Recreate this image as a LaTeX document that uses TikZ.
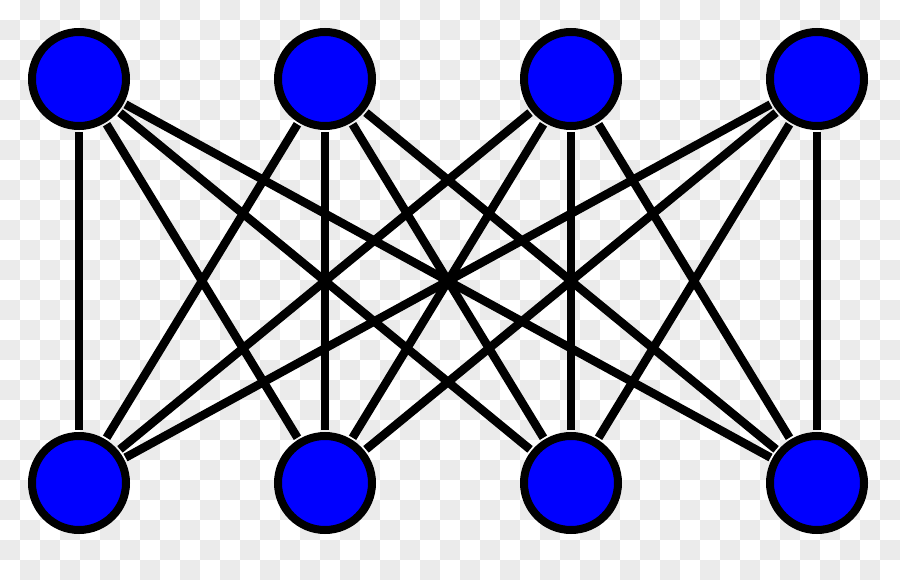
\documentclass[tikz,border=0pt]{standalone}
\definecolor{chk}{HTML}{EBEBEB}
\definecolor{nodeblue}{HTML}{0000FF}
\tikzset{
  vtx/.style={circle, draw=black, fill=nodeblue, line width=8pt, minimum size=94pt, inner sep=0pt},
  edge/.style={draw=black, line width=8.5pt, shorten <=2pt, shorten >=2pt}
}
\begin{document}
\begin{tikzpicture}[x=1pt,y=-1pt]
\fill[white] (0,0) rectangle (900,580);
\useasboundingbox (0,0) rectangle (900,580);
\foreach \j in {0,...,28}{
  \foreach \i in {0,...,44}{
    \ifodd\numexpr\i+\j\relax
      \fill[chk] (\i*20,\j*20) rectangle ++(20,20);
    \fi
  }
}
\node[vtx] (t1) at (79,79) {};
\node[vtx] (t2) at (325,79) {};
\node[vtx] (t3) at (571,79) {};
\node[vtx] (t4) at (817,79) {};
\node[vtx] (b1) at (79,483) {};
\node[vtx] (b2) at (325,483) {};
\node[vtx] (b3) at (571,483) {};
\node[vtx] (b4) at (817,483) {};
\begin{scope}[on background layer/.try]
\end{scope}
\foreach \a in {1,...,4}{
  \foreach \b in {1,...,4}{
    \draw[edge] (t\a) -- (b\b);
  }
}
\end{tikzpicture}
\end{document}
